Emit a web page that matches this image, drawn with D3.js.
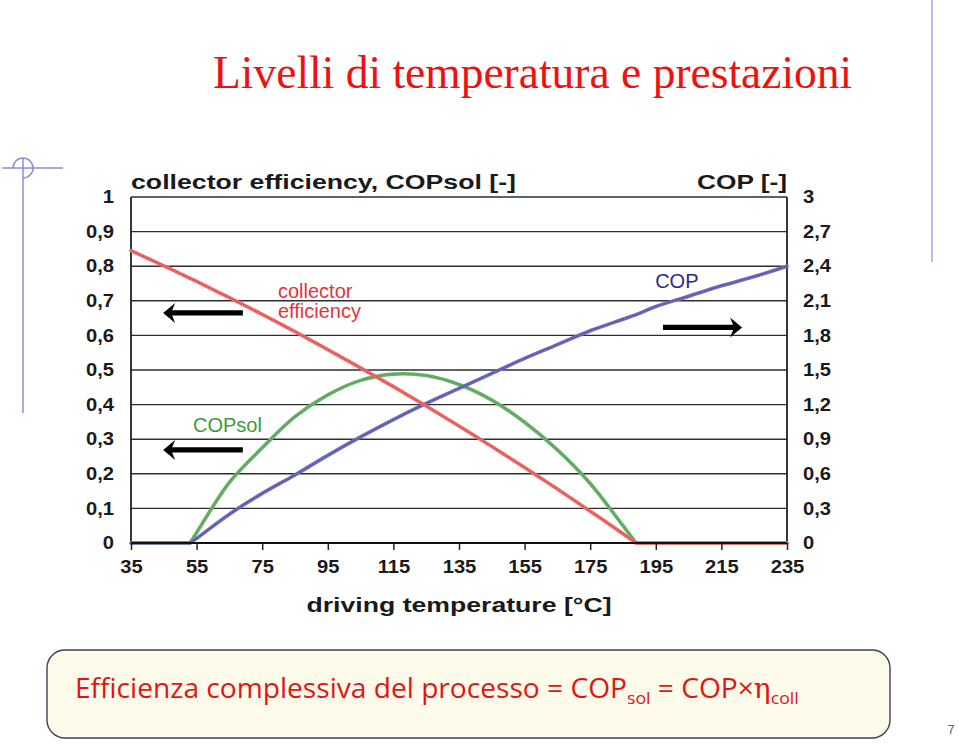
<!DOCTYPE html>
<html>
<head>
<meta charset="utf-8">
<script src="https://cdn.jsdelivr.net/npm/d3@7"></script>
<style>
  html, body { margin: 0; padding: 0; background: #ffffff; }
  svg { display: block; }
</style>
</head>
<body>
<svg id="chart" width="959" height="744"></svg>
<script>
// ---------- data ----------
const temps        = [35, 45, 53, 55, 65, 75, 85, 95, 105, 115, 125, 135, 145, 155, 165, 175, 185, 189, 195, 205, 215, 225, 235];
const collectorEff = [0.845, 0.801, 0.765, 0.756, 0.709, 0.661, 0.611, 0.559, 0.506, 0.452, 0.396, 0.338, 0.279, 0.218, 0.156, 0.092, 0.027, 0, 0, 0, 0, 0, 0];
const copSol       = [0, 0, 0, 0.03, 0.175, 0.275, 0.365, 0.428, 0.47, 0.488, 0.484, 0.458, 0.413, 0.349, 0.269, 0.172, 0.05, 0, 0, 0, 0, 0, 0];
const cop          = [0, 0, 0, 0.04, 0.25, 0.43, 0.59, 0.76, 0.92, 1.07, 1.21, 1.34, 1.47, 1.60, 1.72, 1.84, 1.94, 1.98, 2.05, 2.14, 2.23, 2.31, 2.40];

const xTicks     = [35, 55, 75, 95, 115, 135, 155, 175, 195, 215, 235];
const leftTicks  = [0, 0.1, 0.2, 0.3, 0.4, 0.5, 0.6, 0.7, 0.8, 0.9, 1];
const rightTicks = [0, 0.3, 0.6, 0.9, 1.2, 1.5, 1.8, 2.1, 2.4, 2.7, 3];

const titleText   = "Livelli di temperatura e prestazioni";
const leftTitle   = "collector efficiency, COPsol [-]";
const rightTitle  = "COP [-]";
const xTitle      = "driving temperature [°C]";

// ---------- layout ----------
const svg = d3.select("#chart");
const x  = d3.scaleLinear().domain([35, 235]).range([131, 787]);
const yL = d3.scaleLinear().domain([0, 1]).range([543, 197]);
const yR = d3.scaleLinear().domain([0, 3]).range([543, 197]);
const fmt = d => String(+d.toFixed(1)).replace(".", ",");
const AX_FONT = "'Liberation Sans', Arial, Helvetica, sans-serif";

function stretch(sel, factor) {
  sel.each(function () {
    const w = this.getComputedTextLength();
    d3.select(this).attr("textLength", w * factor).attr("lengthAdjust", "spacingAndGlyphs");
  });
}

// ---------- slide decorations ----------
svg.append("text")
  .attr("x", 213).attr("y", 88)
  .attr("font-family", "'Liberation Serif', 'Times New Roman', serif")
  .attr("font-size", 45.5)
  .attr("fill", "#ee1111")
  .text(titleText);

const deco = svg.append("g").attr("stroke", "#8c8cd8").attr("stroke-width", 1.5).attr("fill", "none");
deco.append("line").attr("x1", 2).attr("x2", 63).attr("y1", 168).attr("y2", 168);
deco.append("line").attr("x1", 23).attr("x2", 23).attr("y1", 158).attr("y2", 413);
deco.append("path")
  .attr("transform", "translate(23,168)")
  .attr("d", d3.arc().innerRadius(10).outerRadius(10).startAngle(-Math.PI / 2).endAngle(Math.PI)());
svg.append("line").attr("x1", 932).attr("x2", 932).attr("y1", 0).attr("y2", 262)
  .attr("stroke", "#a4a4e4").attr("stroke-width", 1.5);

// ---------- chart frame & grid ----------
const plot = svg.append("g");

plot.append("g").selectAll("line").data(leftTicks).join("line")
  .attr("x1", x(35)).attr("x2", x(235))
  .attr("y1", d => yL(d)).attr("y2", d => yL(d))
  .attr("stroke", "#2e2e2e").attr("stroke-width", 1.4);

plot.append("line").attr("x1", x(35)).attr("x2", x(35)).attr("y1", yL(1)).attr("y2", yL(0))
  .attr("stroke", "#222").attr("stroke-width", 1.8);
plot.append("line").attr("x1", x(235)).attr("x2", x(235)).attr("y1", yL(1)).attr("y2", yL(0))
  .attr("stroke", "#222").attr("stroke-width", 1.8);

// axes
const leftAxis = d3.axisLeft(yL).tickValues(leftTicks).tickFormat(fmt).tickSize(0).tickPadding(17);
const gL = svg.append("g").attr("transform", `translate(${x(35)},0)`).call(leftAxis);
const rightAxis = d3.axisRight(yR).tickValues(rightTicks).tickFormat(fmt).tickSize(0).tickPadding(16);
const gR = svg.append("g").attr("transform", `translate(${x(235)},0)`).call(rightAxis);
const bottomAxis = d3.axisBottom(x).tickValues(xTicks).tickFormat(d => d).tickSize(7).tickPadding(10);
const gB = svg.append("g").attr("transform", `translate(0,${yL(0)})`).call(bottomAxis);

[gL, gR, gB].forEach(g => {
  g.select(".domain").remove();
  g.selectAll("text")
    .attr("font-family", AX_FONT)
    .attr("font-weight", "bold")
    .attr("font-size", 18)
    .attr("fill", "#1a1a1a")
    .call(stretch, 1.12);
});
gB.selectAll(".tick line").attr("stroke", "#222").attr("stroke-width", 1.5);
gB.append("line").attr("x1", x(35)).attr("x2", x(235)).attr("y1", 0).attr("y2", 0)
  .attr("stroke", "#111").attr("stroke-width", 1.8);

function axisTitle(tx, ty, anchor, txt, width) {
  svg.append("text").attr("x", tx).attr("y", ty).attr("text-anchor", anchor)
    .attr("font-family", AX_FONT).attr("font-weight", "bold").attr("font-size", 20.5)
    .attr("fill", "#1a1a1a")
    .attr("textLength", width).attr("lengthAdjust", "spacingAndGlyphs")
    .text(txt);
}
axisTitle(x(35), 189, "start", leftTitle, 385);
axisTitle(x(235), 189, "end", rightTitle, 90);
axisTitle(459, 612, "middle", xTitle, 305);

// ---------- series ----------
// flat zero runs are drawn straight, the rest as a smooth curve
function seriesPath(vals, yScale) {
  const pts = vals.map((v, i) => [x(temps[i]), yScale(v)]);
  const groups = [];
  for (let i = 0; i < vals.length - 1; i++) {
    const flat = vals[i] === 0 && vals[i + 1] === 0;
    const last = groups[groups.length - 1];
    if (last && last.flat === flat) last.end = i + 1;
    else groups.push({ flat, start: i, end: i + 1 });
  }
  const lin = d3.line();
  const smooth = d3.line().curve(d3.curveCatmullRom.alpha(0.5));
  return groups.map(g => (g.flat ? lin : smooth)(pts.slice(g.start, g.end + 1))).join("");
}

const series = [
  { name: "COPsol", values: copSol,       y: yL, base: "#6ab46a", dark: "#2f6e2f" },
  { name: "COP",    values: cop,          y: yR, base: "#6e6ebc", dark: "#242474" },
  { name: "eff",    values: collectorEff, y: yL, base: "#f06a6a", dark: "#b02a2a" }
];
series.forEach(s => {
  const d = seriesPath(s.values, s.y);
  plot.append("path").attr("d", d).attr("fill", "none")
    .attr("stroke", s.base).attr("stroke-width", 3.6)
    .attr("stroke-linejoin", "round").attr("stroke-linecap", "round");
  plot.append("path").attr("d", d).attr("fill", "none")
    .attr("stroke", s.dark).attr("stroke-width", 1.6)
    .attr("stroke-dasharray", "1 1.6").attr("opacity", 0.45);
});

// ---------- annotations ----------
const ann = svg.append("g").attr("font-family", AX_FONT).attr("font-size", 20);
ann.append("text").attr("x", x(79.8)).attr("y", yL(0.708)).attr("fill", "#e8323a").text("collector");
ann.append("text").attr("x", x(79.8)).attr("y", yL(0.650)).attr("fill", "#e8323a").text("efficiency");
ann.append("text").attr("x", x(53.9)).attr("y", yL(0.321)).attr("fill", "#3c9a3c").text("COPsol");
ann.append("text").attr("x", x(194.8)).attr("y", yL(0.737)).attr("fill", "#2a2a8c").text("COP");

function arrow(tipX, tailX, yPix) {
  const dir = tailX > tipX ? 1 : -1;
  const hl = 12, hh = 10, sh = 2.6, notch = 3;
  const pts = [
    [tipX, yPix],
    [tipX + dir * hl, yPix - hh],
    [tipX + dir * (hl - notch), yPix - sh],
    [tailX, yPix - sh],
    [tailX, yPix + sh],
    [tipX + dir * (hl - notch), yPix + sh],
    [tipX + dir * hl, yPix + hh]
  ];
  svg.append("path").attr("d", "M" + pts.map(p => p.join(",")).join("L") + "Z").attr("fill", "#000");
}
arrow(x(44.8), x(69.1), yL(0.665));
arrow(x(44.8), x(69.1), yL(0.269));
arrow(x(221.3), x(197.2), yL(0.623));

// ---------- bottom formula box ----------
svg.append("rect").attr("x", 47).attr("y", 650).attr("width", 843).attr("height", 88)
  .attr("rx", 18).attr("ry", 18)
  .attr("fill", "#fefbea").attr("stroke", "#3e3e5a").attr("stroke-width", 1.4);

const FORM_FONT = "'Comic Sans MS', 'Open Sans', 'DejaVu Sans', sans-serif";
const ft = svg.append("text").attr("x", 75).attr("y", 698)
  .attr("font-family", FORM_FONT).attr("font-size", 27).attr("fill", "#e01515");
ft.append("tspan").text("Efficienza complessiva del processo = COP");
ft.append("tspan").attr("font-size", 17).attr("dy", 6).text("sol");
ft.append("tspan").attr("dy", -6).text("\u00A0= COP×");
ft.append("tspan").attr("font-family", "'DejaVu Serif', serif").text("η");
ft.append("tspan").attr("font-size", 17).attr("dy", 6).text("coll");
const bb = ft.node().getBBox();
const sx = 724 / bb.width;
ft.attr("transform", `translate(75,0) scale(${sx},1) translate(-75,0)`);

svg.append("text").attr("x", 951).attr("y", 734).attr("text-anchor", "middle")
  .attr("font-family", AX_FONT).attr("font-size", 12).attr("fill", "#555").text("7");
</script>
</body>
</html>
